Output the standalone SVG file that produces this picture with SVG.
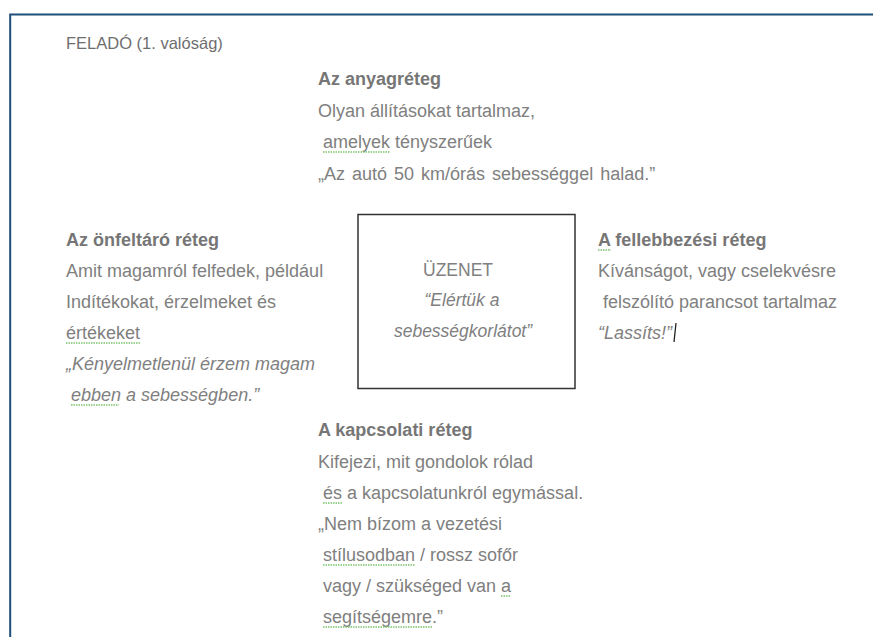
<svg xmlns="http://www.w3.org/2000/svg" width="873" height="637" viewBox="0 0 873 637">
<style>
text{font-family:"Liberation Sans",Arial,sans-serif;font-size:18px;fill:#808080}
.h{font-size:16.5px;fill:#6e6e6e}
.b{font-weight:bold;fill:#767676}
.i{font-style:italic}
.m{font-size:17.5px;text-anchor:middle}
.sq{stroke:#7cc46e;stroke-width:1.3;stroke-dasharray:1.5 1;fill:none}
</style>
<rect width="873" height="637" fill="#ffffff"/>
<g id="frame">
<path d="M10.2 637 V14.6 H873" fill="none" stroke="#1f4e79" stroke-width="2"/>
</g>
<g id="felado">
<text class="h" x="66" y="49">FELADÓ (1. valóság)</text>
</g>
<g id="anyagreteg">
<text class="b" x="318" y="85">Az anyagréteg</text>
<text x="318" y="117">Olyan állításokat tartalmaz,</text>
<text x="323" y="148">amelyek tényszerűek</text>
<text x="318" y="180" word-spacing="2">„Az autó 50 km/órás sebességgel halad.”</text>
</g>
<g id="onfeltaro">
<text class="b" x="66" y="246">Az önfeltáró réteg</text>
<text x="66" y="277">Amit magamról felfedek, például</text>
<text x="66" y="308">Indítékokat, érzelmeket és</text>
<text x="66" y="339">értékeket</text>
<text class="i" x="66" y="370">„Kényelmetlenül érzem magam</text>
<text class="i" x="71" y="401">ebben a sebességben.”</text>
</g>
<g id="uzenet">
<rect x="358" y="214.5" width="217" height="174" fill="none" stroke="#333333" stroke-width="1.5"/>
<text class="m" x="458" y="276">ÜZENET</text>
<text class="i m" x="462" y="306">“Elértük a</text>
<text class="i m" x="463" y="337">sebességkorlátot”</text>
</g>
<g id="fellebbezesi">
<text class="b" x="598" y="246">A fellebbezési réteg</text>
<text x="598" y="277">Kívánságot, vagy cselekvésre</text>
<text x="603" y="308">felszólító parancsot tartalmaz</text>
<text class="i" x="598" y="339">“Lassíts!”</text>
<line x1="676" y1="323" x2="674" y2="342" stroke="#222" stroke-width="1.3"/>
</g>
<g id="kapcsolati">
<text class="b" x="318" y="436">A kapcsolati réteg</text>
<text x="318" y="468">Kifejezi, mit gondolok rólad</text>
<text x="323" y="499">és a kapcsolatunkról egymással.</text>
<text x="318" y="530">„Nem bízom a vezetési</text>
<text x="323" y="561">stílusodban / rossz sofőr</text>
<text x="323" y="592">vagy / szükséged van a</text>
<text x="323" y="623">segítségemre.”</text>
</g>
<g id="squiggles">
<line class="sq" x1="323" y1="152" x2="390" y2="152"/>
<line class="sq" x1="66" y1="343" x2="140" y2="343"/>
<line class="sq" x1="71" y1="405" x2="119" y2="405"/>
<line class="sq" x1="598" y1="250" x2="611" y2="250"/>
<line class="sq" x1="323" y1="503" x2="342" y2="503"/>
<line class="sq" x1="323" y1="565" x2="415" y2="565"/>
<line class="sq" x1="501" y1="596" x2="511" y2="596"/>
<line class="sq" x1="323" y1="627" x2="432" y2="627"/>
</g>
</svg>
